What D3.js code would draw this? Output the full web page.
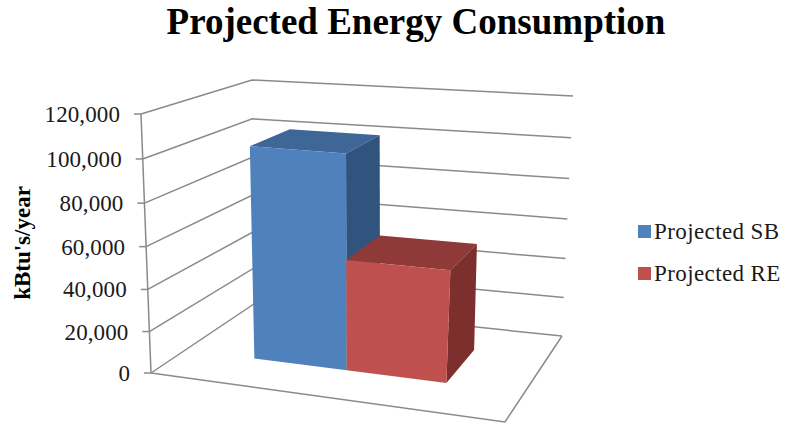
<!DOCTYPE html>
<html>
<head>
<meta charset="utf-8">
<script src="https://cdn.jsdelivr.net/npm/d3@7/dist/d3.min.js"></script>
<style>
html,body{margin:0;padding:0;background:#fff}
text{font-family:"Liberation Serif","Times New Roman",serif;fill:#1a1a1a}
</style>
</head>
<body>
<svg id="chart" width="785" height="423"></svg>
<script>
// Chart data
const seriesNames = ["Projected SB", "Projected RE"];
const seriesValues = [102000, 53000];
const tickValues = [0, 20000, 40000, 60000, 80000, 100000, 120000];
const seriesColors = ["#4f81bd", "#c0504d"];
const topColors = ["#3e6696", "#8f3a38"];
const sideColors = ["#31547f", "#7c2f2d"];
const chartTitle = "Projected Energy Consumption";
const axisTitle = "kBtu's/year";

// Screen positions of the plot box corners: [front-left, front-right, back-right, back-left]
const floorCorners = [[151,373],[505,422],[562,336],[254,304]];
const ceilingCorners = [[141,114],[530,144],[573,96],[252,80]];
const gridColor = "#8a8a8a";

const svg = d3.select("#chart");

// Homography from the unit square onto a screen quadrilateral
function quadMap([p0,p1,p2,p3]) {
  const dx1=p1[0]-p2[0], dx2=p3[0]-p2[0], sx=p0[0]-p1[0]+p2[0]-p3[0];
  const dy1=p1[1]-p2[1], dy2=p3[1]-p2[1], sy=p0[1]-p1[1]+p2[1]-p3[1];
  const den=dx1*dy2-dx2*dy1;
  const g=(sx*dy2-dx2*sy)/den, h=(dx1*sy-sx*dy1)/den;
  const a=p1[0]-p0[0]+g*p1[0], b=p3[0]-p0[0]+h*p3[0];
  const d=p1[1]-p0[1]+g*p1[1], e=p3[1]-p0[1]+h*p3[1];
  return (u,v)=>{
    const w=1+g*u+h*v;
    return [(a*u+b*v+p0[0])/w,(d*u+e*v+p0[1])/w];
  };
}
const floorMap = quadMap(floorCorners);
const ceilingMap = quadMap(ceilingCorners);

// Value axis: linear in data, foreshortened slightly towards the floor
const valueScale = d3.scaleLinear().domain([0,120000]).range([0,1]);
const foreshorten = 0.05;
function project(u,v,value){
  const w=valueScale(value);
  const t=w/(1+foreshorten*(1-w));
  const a=floorMap(u,v), b=ceilingMap(u,v);
  return [a[0]+(b[0]-a[0])*t, a[1]+(b[1]-a[1])*t];
}

// Bars sit side by side along the category direction, in a shared depth band
const barScale = d3.scaleBand().domain(seriesNames).range([0.226,0.793]);
const depthFront = 0.30, depthBack = 0.705;
const poly = d3.line();

// Gridlines on the side wall and the back wall
const grid = svg.append("g").attr("fill","none").attr("stroke",gridColor).attr("stroke-width",1.5);
tickValues.forEach(val=>{
  grid.append("path").attr("d",poly([project(0,0,val),project(0,1,val),project(1,1,val)]));
  const p=project(0,0,val);
  grid.append("path").attr("d",poly([[p[0]-7,p[1]],p]));
});
// Value axis and the floor's front and right edges
grid.append("path").attr("d",poly([project(0,0,0),project(0,0,120000)]));
grid.append("path").attr("d",poly([project(0,0,0),project(1,0,0),project(1,1,0)]));

// Tick labels
const fmt = d3.format(",");
svg.append("g").selectAll("text").data(tickValues).join("text")
  .attr("x",d=>project(0,0,d)[0]-21)
  .attr("y",d=>project(0,0,d)[1]+8)
  .attr("text-anchor","end")
  .attr("font-size",23)
  .attr("letter-spacing",0.1)
  .text(d=>fmt(d));

// Bars, back faces first
seriesNames.forEach((name,i)=>{
  const u0=barScale(name), u1=u0+barScale.bandwidth(), val=seriesValues[i];
  const g=svg.append("g");
  g.append("path").attr("fill",topColors[i]).attr("d",poly([
    project(u0,depthFront,val),project(u1,depthFront,val),project(u1,depthBack,val),project(u0,depthBack,val)
  ])+"Z");
  g.append("path").attr("fill",sideColors[i]).attr("d",poly([
    project(u1,depthFront,0),project(u1,depthBack,0),project(u1,depthBack,val),project(u1,depthFront,val)
  ])+"Z");
  g.append("path").attr("fill",seriesColors[i]).attr("d",poly([
    project(u0,depthFront,0),project(u1,depthFront,0),project(u1,depthFront,val),project(u0,depthFront,val)
  ])+"Z");
});

// Titles
svg.append("text").attr("x",416).attr("y",34).attr("text-anchor","middle")
  .attr("font-size",37).attr("font-weight","bold").style("fill","#000").text(chartTitle);
svg.append("text").attr("transform","translate(30,243) rotate(-90)").attr("text-anchor","middle")
  .attr("font-size",23).attr("font-weight","bold").style("fill","#000").text(axisTitle);

// Legend
const legend = svg.append("g").selectAll("g").data(seriesNames).join("g")
  .attr("transform",(d,i)=>`translate(638,${225+i*42})`);
legend.append("rect").attr("width",13).attr("height",13).attr("fill",(d,i)=>seriesColors[i]);
legend.append("text").attr("x",16).attr("y",14).attr("font-size",23).attr("letter-spacing",0.4).text(d=>d);
</script>
</body>
</html>
